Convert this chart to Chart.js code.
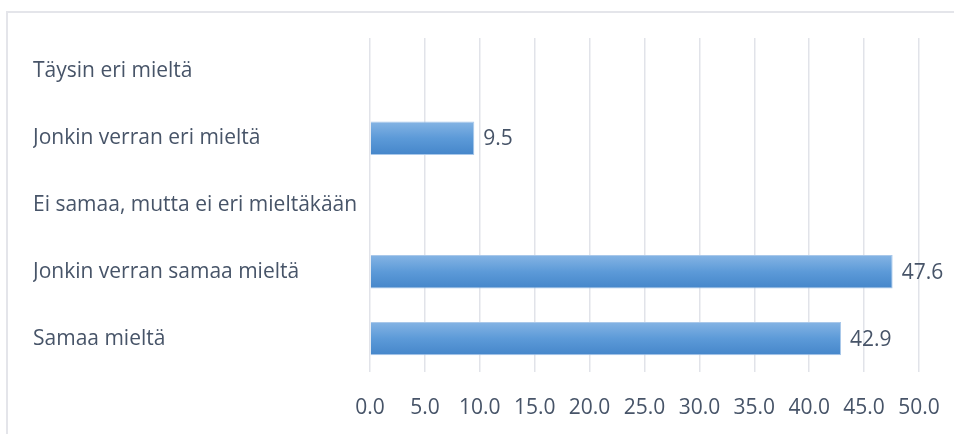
<!DOCTYPE html>
<html>
<head>
<meta charset="utf-8">
<script src="https://cdn.jsdelivr.net/npm/chart.js@4/dist/chart.umd.min.js"></script>
<style>
  html, body { margin: 0; padding: 0; background: #ffffff; }
  #wrap { position: relative; width: 954px; height: 434px; overflow: hidden; }
  #frame {
    position: absolute; left: 6px; top: 11px; width: 1000px; height: 500px;
    border-left: 2px solid #e4e5ea; border-top: 2px solid #e4e5ea;
    box-sizing: border-box;
  }
  canvas { position: absolute; left: 0; top: 0; }
</style>
</head>
<body>
<div id="wrap">
  <div id="frame"></div>
  <canvas id="c" width="954" height="434"></canvas>
</div>
<script>
// Vastausvaihtoehdot ylhäältä alas ja niiden osuudet (%)
const categories = [
  'Täysin eri mieltä',
  'Jonkin verran eri mieltä',
  'Ei samaa, mutta ei eri mieltäkään',
  'Jonkin verran samaa mieltä',
  'Samaa mieltä'
];
const shares = [0, 9.5, 0, 47.6, 42.9];
const axisMin = 0;
const axisMax = 50;
const axisStep = 5;

const TEXT = '#475468';
const FONT = { family: "'Open Sans', 'Noto Sans', sans-serif", size: 21 };
const BAR_SHARE = 0.5;

// Each bar gets its own top-to-bottom gradient
function barGradient(ctx) {
  const chart = ctx.chart;
  const area = chart.chartArea;
  if (!area || ctx.type !== 'data') return '#5b9bd5';
  const y = chart.scales.y.getPixelForValue(ctx.dataIndex);
  const half = (area.height / categories.length) * BAR_SHARE / 2;
  const g = chart.ctx.createLinearGradient(0, y - half, 0, y + half);
  g.addColorStop(0, '#85b4e4');
  g.addColorStop(0.5, '#5c9ad8');
  g.addColorStop(1, '#4586ca');
  return g;
}

// Value labels just past the end of each bar
const valueLabels = {
  id: 'valueLabels',
  afterDatasetsDraw(chart) {
    const { ctx } = chart;
    const meta = chart.getDatasetMeta(0);
    ctx.save();
    ctx.font = `${FONT.size}px ${FONT.family}`;
    ctx.fillStyle = TEXT;
    ctx.textAlign = 'left';
    ctx.textBaseline = 'middle';
    meta.data.forEach((bar, i) => {
      const v = shares[i];
      if (!v) return;
      const { x, y } = bar.getProps(['x', 'y'], true);
      ctx.fillText(v.toFixed(1), x + 9, y + 1);
    });
    ctx.restore();
  }
};

new Chart(document.getElementById('c'), {
  type: 'bar',
  data: {
    labels: categories,
    datasets: [{
      data: shares,
      backgroundColor: barGradient,
      borderColor: '#a9c8ea',
      borderWidth: 1,
      categoryPercentage: 1,
      barPercentage: BAR_SHARE
    }]
  },
  options: {
    indexAxis: 'y',
    responsive: false,
    animation: false,
    layout: { padding: { left: 33, right: 35, top: 38, bottom: 0 } },
    plugins: { legend: { display: false }, tooltip: { enabled: false } },
    scales: {
      x: {
        min: axisMin,
        max: axisMax,
        grid: { color: '#e1e3e9', lineWidth: 1.5, drawTicks: false, tickLength: 0 },
        border: { display: false },
        ticks: {
          stepSize: axisStep,
          padding: 23,
          color: TEXT,
          font: FONT,
          callback: v => Number(v).toFixed(1)
        },
        afterFit(scale) {
          scale.height = 62;
          scale.paddingLeft = 0;
          scale.paddingRight = 0;
        }
      },
      y: {
        grid: { display: false, drawTicks: false },
        border: { display: false },
        ticks: { crossAlign: 'far', color: TEXT, font: FONT, padding: 0 },
        afterFit(scale) { scale.width = 337; }
      }
    }
  },
  plugins: [valueLabels]
});
</script>
</body>
</html>
